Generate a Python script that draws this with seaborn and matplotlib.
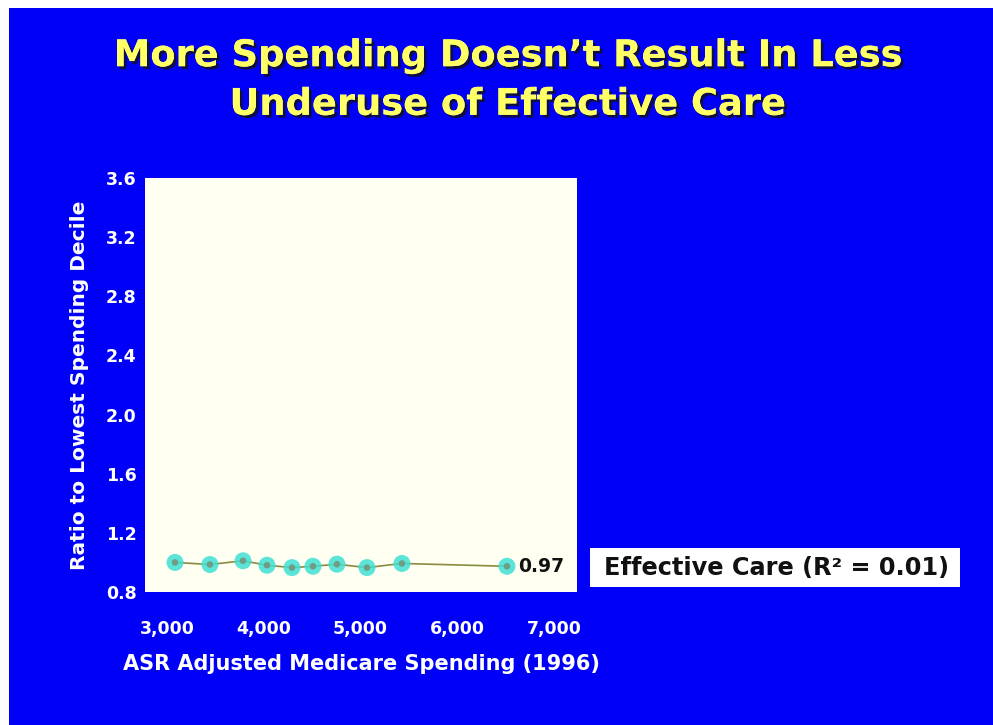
import matplotlib
matplotlib.use("Agg")
import matplotlib.pyplot as plt
import matplotlib.patheffects as pe
from matplotlib.patches import Rectangle
import seaborn as sns
import pandas as pd

# ---- data ----
spending = [3083, 3444, 3786, 4034, 4292, 4509, 4757, 5067, 5429, 6514]
ratio = [1.00, 0.986, 1.011, 0.981, 0.965, 0.974, 0.988, 0.965, 0.993, 0.974]
end_label = "0.97"
x_ticks = [3000, 4000, 5000, 6000, 7000]
x_tick_labels = ["3,000", "4,000", "5,000", "6,000", "7,000"]
y_ticks = [0.8, 1.2, 1.6, 2.0, 2.4, 2.8, 3.2, 3.6]
y_tick_labels = ["0.8", "1.2", "1.6", "2.0", "2.4", "2.8", "3.2", "3.6"]
title = "More Spending Doesn\u2019t Result In Less\nUnderuse of Effective Care"
xlabel = "ASR Adjusted Medicare Spending (1996)"
ylabel = "Ratio to Lowest Spending Decile"
legend_text = "Effective Care (R\u00b2 = 0.01)"

df = pd.DataFrame({"spending": spending, "ratio": ratio})

sns.set_theme(style="white")
plt.rcParams["font.family"] = ["DejaVu Sans"]

W, H = 993, 725
BLUE = "#0000F8"
fig = plt.figure(figsize=(W / 100, H / 100), dpi=100, facecolor="white")
fig.patches.append(Rectangle((9 / W, 0), 1, 1 - 8 / H, transform=fig.transFigure,
                             facecolor=BLUE, edgecolor="none", zorder=-10))

ax = fig.add_axes([145 / W, 1 - 592 / H, 432 / W, 414 / H])
ax.set_facecolor("#FFFFF2")

sns.lineplot(data=df, x="spending", y="ratio", ax=ax, color="#8A8A40", linewidth=1.2,
             zorder=2)
sns.scatterplot(data=df, x="spending", y="ratio", ax=ax, color="#40E0D4", s=150,
                edgecolor="none", alpha=0.85, zorder=3)
sns.scatterplot(data=df, x="spending", y="ratio", ax=ax, color="#6E9C84", s=22,
                edgecolor="none", zorder=4)

ax.set_xlim(2773, 7238)
ax.set_ylim(0.8, 3.6)
for s in ax.spines.values():
    s.set_visible(False)

ax.set_xticks(x_ticks)
ax.set_xticklabels(x_tick_labels, color="white", fontsize=12.5, fontweight="bold")
ax.set_yticks(y_ticks)
ax.set_yticklabels(y_tick_labels, color="white", fontsize=12.5, fontweight="bold")
ax.tick_params(axis="both", length=0)
ax.tick_params(axis="x", pad=20)
ax.tick_params(axis="y", pad=6)
ax.set_xlabel(xlabel, color="white", fontsize=15, fontweight="bold", labelpad=12)
ax.set_ylabel(ylabel, color="white", fontsize=14.5, fontweight="bold", labelpad=12)

ax.annotate(end_label, xy=(spending[-1], ratio[-1]), xytext=(8, 0),
            textcoords="offset points", va="center", ha="left",
            fontsize=13.5, fontweight="bold", color="#111111", annotation_clip=False)

fig.patches.append(Rectangle((590 / W, 1 - 587 / H), 370 / W, 39 / H,
                             transform=fig.transFigure, facecolor="white",
                             edgecolor="none", zorder=5))
fig.text(777 / W, 1 - 568 / H, legend_text, ha="center", va="center",
         fontsize=17.3, fontweight="bold", color="#111111", zorder=6)

fig.text(508 / W, 1 - 80 / H, title, ha="center", va="center", fontsize=26.5,
         fontweight="bold", color="#FFFF66", linespacing=1.4,
         path_effects=[pe.withSimplePatchShadow(offset=(2, -2), shadow_rgbFace="#101030",
                                                alpha=0.9), pe.Normal()])

fig.savefig("out.png", dpi=100, facecolor=fig.get_facecolor())
